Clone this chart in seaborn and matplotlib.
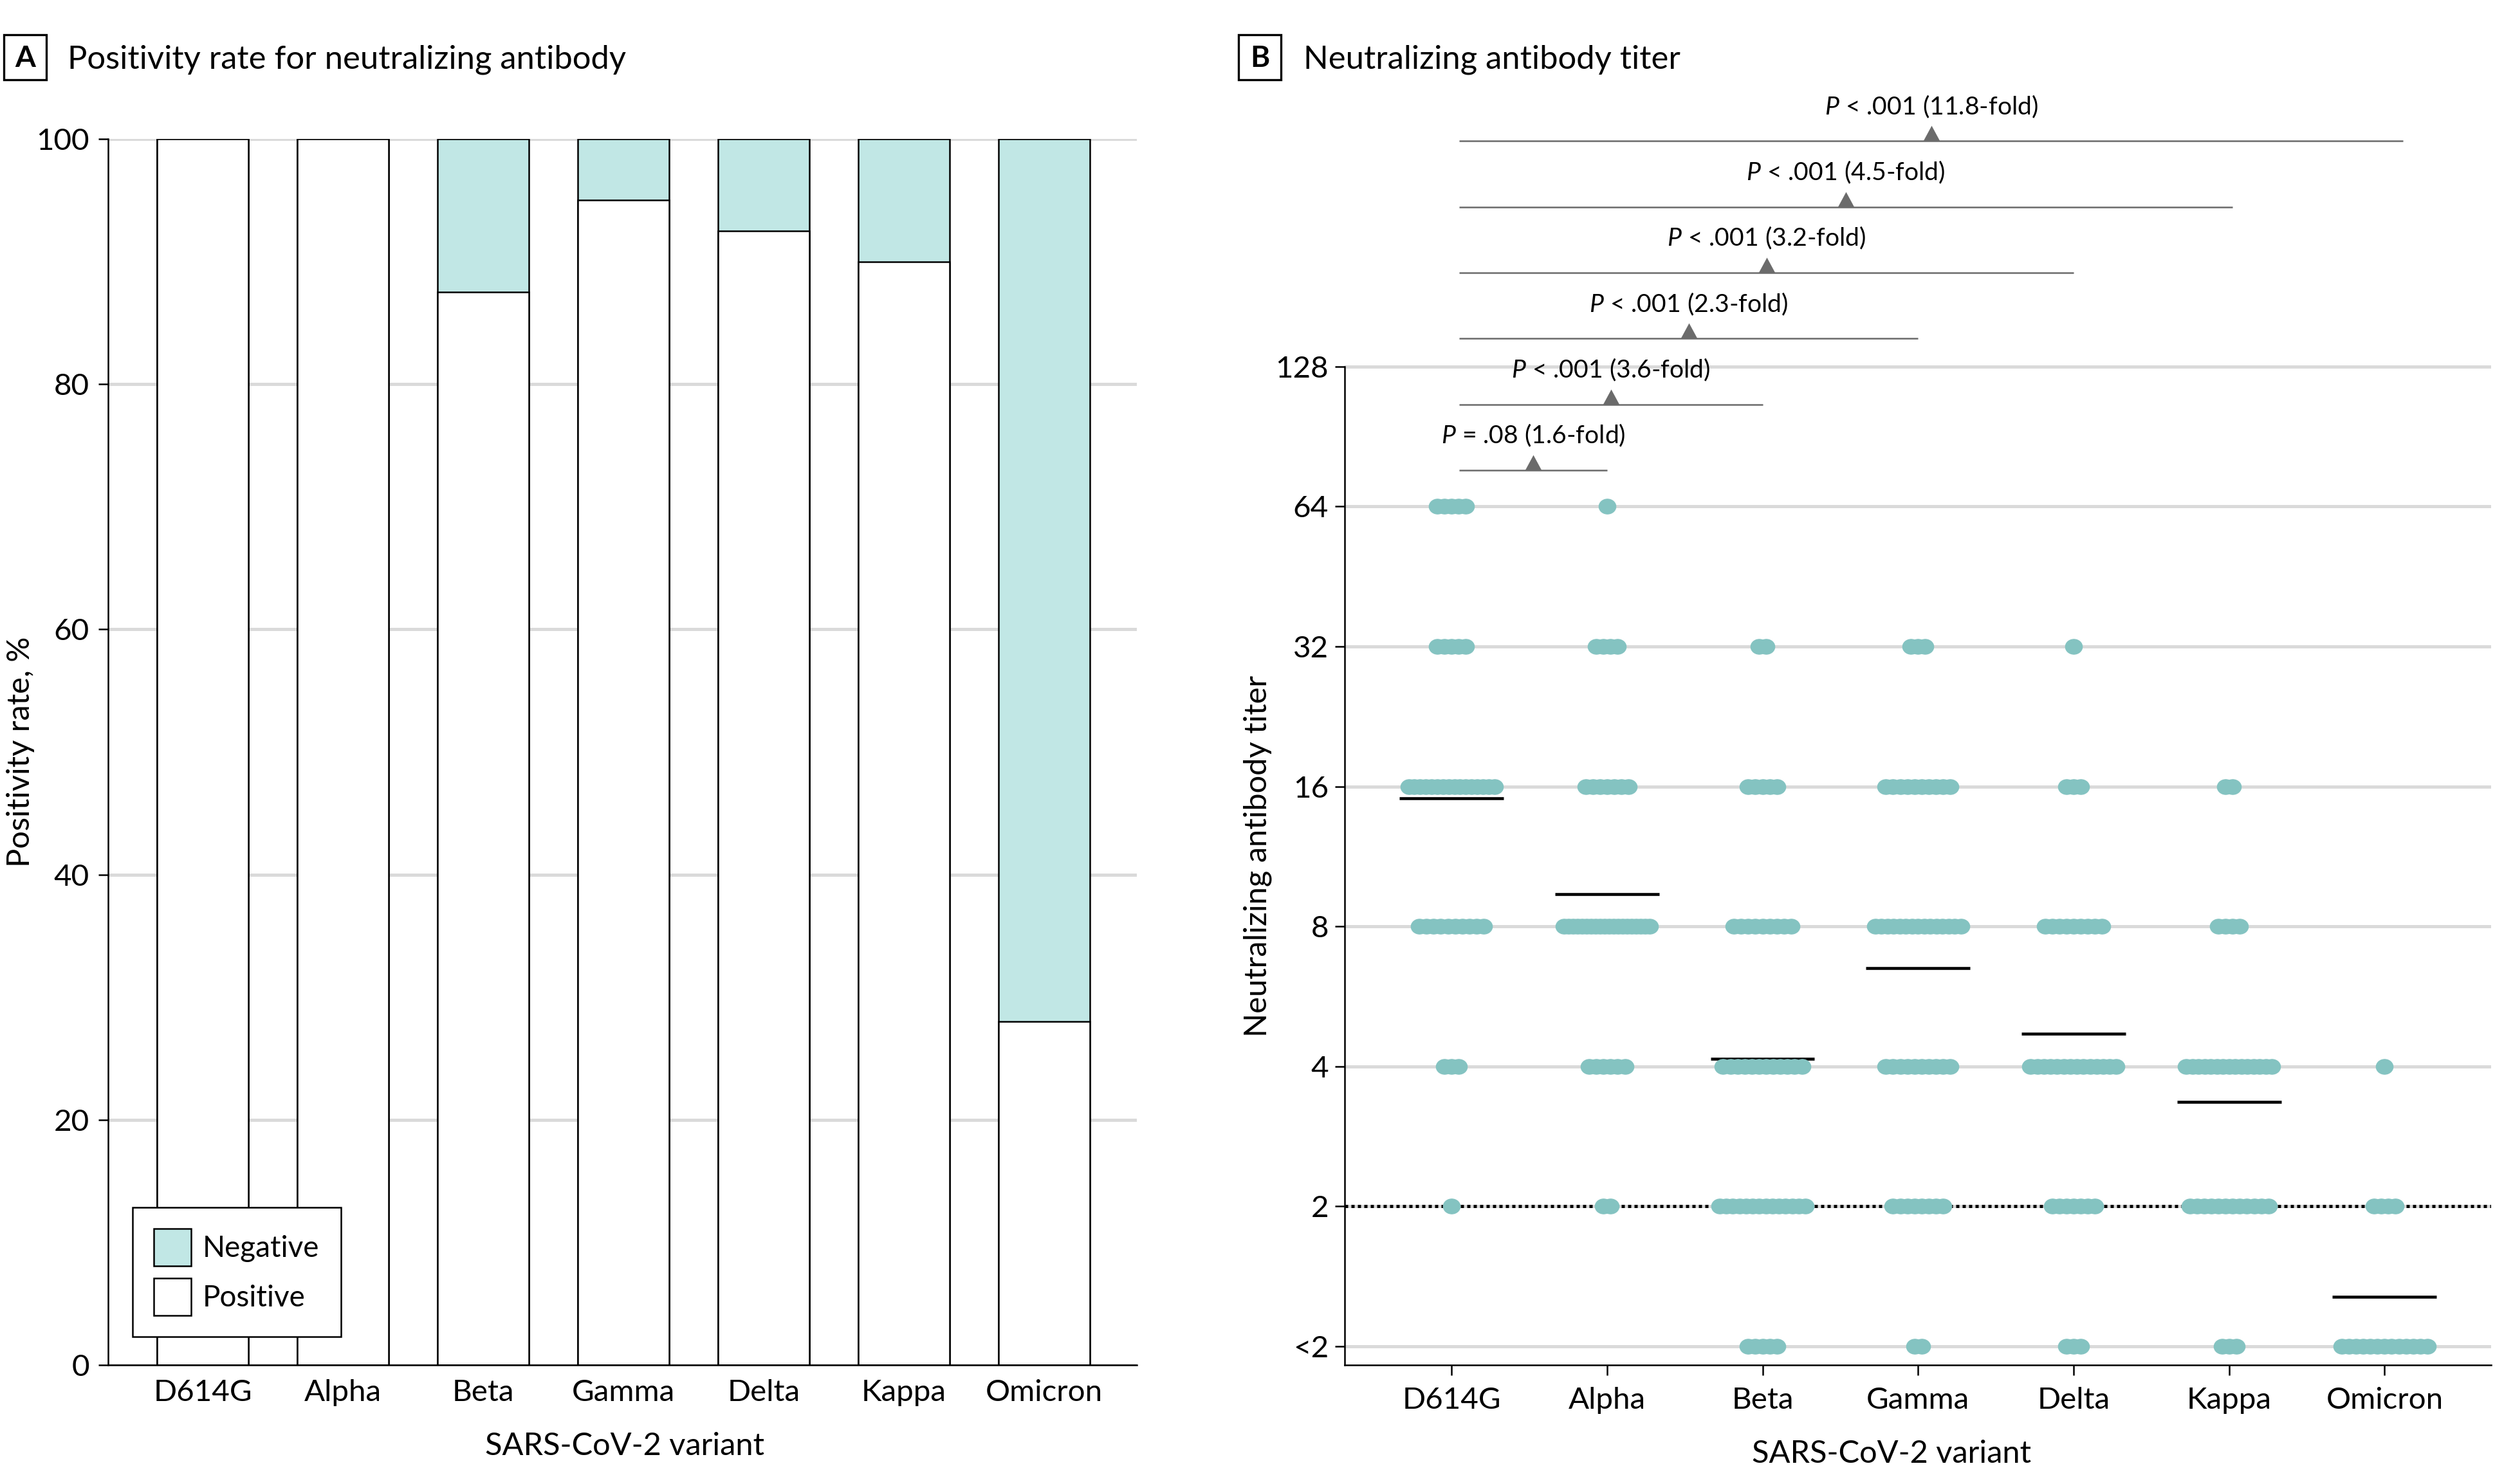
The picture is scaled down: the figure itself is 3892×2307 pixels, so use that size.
import numpy as np
import pandas as pd
import matplotlib
matplotlib.use("Agg")
import matplotlib.pyplot as plt
import seaborn as sns
from matplotlib.path import Path
from matplotlib.transforms import Affine2D
from matplotlib.patches import Rectangle, Patch
from matplotlib.ticker import NullLocator, FixedLocator

# ---------------- data ----------------
variants = ["D614G", "Alpha", "Beta", "Gamma", "Delta", "Kappa", "Omicron"]
positive_rate = [100, 100, 87.5, 95, 92.5, 90, 28]          # % positive (panel A)

titer_labels = ["<2", "2", "4", "8", "16", "32", "64", "128"]
titer_values = [1, 2, 4, 8, 16, 32, 64, 128]                # "<2" drawn at 1
dot_levels = [1, 2, 4, 8, 16, 32, 64]

# number of participants at each titer level  [<2, 2, 4, 8, 16, 32, 64]
count_d614g = [0, 1, 3, 10, 16, 5, 5]
count_alpha = [0, 2, 6, 20, 7, 4, 1]
count_beta = [5, 14, 12, 9, 5, 2, 0]
count_gamma = [2, 8, 10, 15, 10, 3, 0]
count_delta = [3, 7, 14, 9, 3, 1, 0]
count_kappa = [3, 12, 15, 4, 2, 0, 0]
count_omicron = [13, 4, 1, 0, 0, 0, 0]

gmt = [15.1, 9.4, 4.15, 6.5, 4.7, 3.35, 1.28]               # geometric mean titers

ann_labels = [r"$P$ = .08 (1.6-fold)", r"$P$ < .001 (3.6-fold)", r"$P$ < .001 (2.3-fold)",
              r"$P$ < .001 (3.2-fold)", r"$P$ < .001 (4.5-fold)", r"$P$ < .001 (11.8-fold)"]
ann_ends = [1.0, 2.0, 3.0, 4.0, 5.02, 6.12]

# ---------------- style ----------------
neg_color = "#c1e7e5"
dot_color = "#84c3c1"
grid_color = "#dadada"
ann_gray = "#6b6b6b"

sns.set_theme(style="white")
plt.rcParams["font.family"] = ["Lato", "DejaVu Sans"]
plt.rcParams.update({
    "mathtext.fontset": "custom",
    "mathtext.rm": "Lato",
    "mathtext.it": "Lato:italic",
    "axes.linewidth": 0.6,
    "axes.edgecolor": "black",
    "xtick.color": "black",
    "ytick.color": "black",
    "text.color": "black",
    "axes.labelcolor": "black",
})

fig = plt.figure(figsize=(3892 / 300, 2307 / 300), dpi=300)
axA = fig.add_axes([0.04317, 0.0802, 0.4108, 0.8262])
axB = fig.add_axes([0.5370, 0.0802, 0.45786, 0.8262])

TICK_FS = 11.4
LABEL_FS = 11.7

# ---------------- panel A ----------------
dfA = pd.DataFrame({"variant": variants, "positive": positive_rate})
dfA["negative"] = 100 - dfA["positive"]
dfA["total"] = dfA["positive"] + dfA["negative"]

axA.set_axisbelow(True)
axA.grid(axis="y", color=grid_color, lw=1.2, zorder=0)
sns.barplot(data=dfA, x="variant", y="total", order=variants, color=neg_color, saturation=1,
            edgecolor="black", linewidth=0.6, width=0.651, ax=axA, zorder=2)
sns.barplot(data=dfA, x="variant", y="positive", order=variants, color="white", saturation=1,
            edgecolor="black", linewidth=0.6, width=0.651, ax=axA, zorder=2)
axA.set_xlim(-0.674, 6.66)
axA.set_ylim(0, 100)
axA.set_yticks([0, 20, 40, 60, 80, 100])
axA.tick_params(axis="y", length=3.6, width=0.6, pad=3.4, labelsize=TICK_FS, left=True)
axA.tick_params(axis="x", length=0, pad=5.3, labelsize=TICK_FS)
axA.grid(axis="x", visible=False)
for s in ["top", "right"]:
    axA.spines[s].set_visible(False)
axA.set_xlabel("SARS-CoV-2 variant", fontsize=LABEL_FS)
axA.set_ylabel("Positivity rate, %", fontsize=LABEL_FS)
axA.xaxis.label.set_va("baseline")
axA.xaxis.set_label_coords(0.5025, (2122 - 2262) / 1906)
axA.yaxis.label.set_va("center")
axA.yaxis.set_label_coords((32 - 168) / 1599, 0.5)

handles = [Patch(facecolor=neg_color, edgecolor="black", linewidth=0.6, label="Negative"),
           Patch(facecolor="white", edgecolor="black", linewidth=0.6, label="Positive")]
leg = axA.legend(handles=handles, loc="lower left", bbox_to_anchor=(0.0238, 0.0231),
                 frameon=True, fancybox=False, framealpha=1, edgecolor="black", fontsize=11,
                 handlelength=1.27, handleheight=1.57, labelspacing=0.42, borderpad=0.72,
                 handletextpad=0.39, borderaxespad=0)
leg.get_frame().set_linewidth(0.6)
leg.set_zorder(5)

# ---------------- panel B ----------------
count_table = {"D614G": count_d614g, "Alpha": count_alpha, "Beta": count_beta,
               "Gamma": count_gamma, "Delta": count_delta, "Kappa": count_kappa,
               "Omicron": count_omicron}
dot_step = 0.0459        # horizontal spacing of overlapping dots (category units)
dot_span_max = 0.55      # widest spread of a dot row
rows = []
for i, v in enumerate(variants):
    for lvl, n in zip(dot_levels, count_table[v]):
        if n == 0:
            continue
        span = min((n - 1) * dot_step, dot_span_max)
        for off in np.linspace(-span / 2, span / 2, n):
            rows.append({"variant": v, "x": i + off, "titer": lvl})
dfB = pd.DataFrame(rows)

ellipse = Path.unit_circle().transformed(Affine2D().scale(1.0, 0.88))

axB.set_yscale("log", base=2)
ylo, yhi = 2 ** -0.133, 2 ** 8.626
axB.set_axisbelow(True)
axB.grid(axis="y", color=grid_color, lw=1.2, zorder=0)
sns.scatterplot(data=dfB, x="x", y="titer", marker=ellipse, s=40, color=dot_color,
                linewidth=0.3, edgecolor=dot_color, ax=axB, zorder=4, legend=False)
axB.axhline(2, color="black", lw=1.2, ls=(0, (1, 1)), zorder=2.5)
xc = np.arange(len(variants))
axB.hlines(gmt, xc - 0.335, xc + 0.335, color="black", lw=1.1, zorder=3)

tri = Path([(-0.54, 0), (0.54, 0), (0, 1), (-0.54, 0)],
           [Path.MOVETO, Path.LINETO, Path.LINETO, Path.CLOSEPOLY])
ann_start = 0.05
for k, (lab, end) in enumerate(zip(ann_labels, ann_ends)):
    y = 2 ** (6.26 + 0.47 * k)
    axB.plot([ann_start, end], [y, y], color=ann_gray, lw=0.6, solid_capstyle="butt",
             zorder=3, clip_on=False)
    mid = (ann_start + end) / 2
    axB.plot([mid], [y], marker=tri, ms=11.5, color=ann_gray, mew=0, ls="none",
             zorder=3, clip_on=False)
    axB.text(mid, y * 2 ** 0.19, lab, ha="center", va="baseline", fontsize=9.4)

axB.set_xlim(-0.687, 6.685)
axB.set_ylim(ylo, yhi)
axB.yaxis.set_major_locator(FixedLocator(titer_values))
axB.yaxis.set_minor_locator(NullLocator())
axB.set_yticklabels(titer_labels)
axB.set_xticks(xc)
axB.set_xticklabels(variants)
axB.tick_params(axis="y", length=3.6, width=0.6, pad=2.4, labelsize=TICK_FS, left=True)
axB.tick_params(axis="x", length=3.8, width=0.6, pad=4.3, labelsize=TICK_FS, bottom=True)
for s in ["top", "right"]:
    axB.spines[s].set_visible(False)
axB.spines["left"].set_bounds(ylo, 128)
axB.set_xlabel("SARS-CoV-2 variant", fontsize=LABEL_FS)
axB.set_ylabel("Neutralizing antibody titer", fontsize=LABEL_FS)
axB.xaxis.label.set_va("baseline")
axB.xaxis.set_label_coords((2940 - 2090) / 1782, (2122 - 2274) / 1906)
axB.yaxis.label.set_va("center")
axB.yaxis.set_label_coords((1955 - 2090) / 1782, 0.415)

# ---------------- panel headers ----------------
W, H = 3892, 2307
for bx, letter, tx, title in [(6, "A", 105, "Positivity rate for neutralizing antibody"),
                              (1925, "B", 2026, "Neutralizing antibody titer")]:
    fig.patches.append(Rectangle((bx / W, 1 - 124 / H), 66 / W, 70 / H, transform=fig.transFigure,
                                 facecolor="white", edgecolor="black", lw=0.8))
    fig.text((bx + 33) / W, 1 - 104 / H, letter, ha="center", va="baseline",
             fontsize=11, fontweight="bold")
    fig.text(tx / W, 1 - 107 / H, title, ha="left", va="baseline", fontsize=12.2)

fig.savefig("out.png", dpi=300, facecolor="white")
